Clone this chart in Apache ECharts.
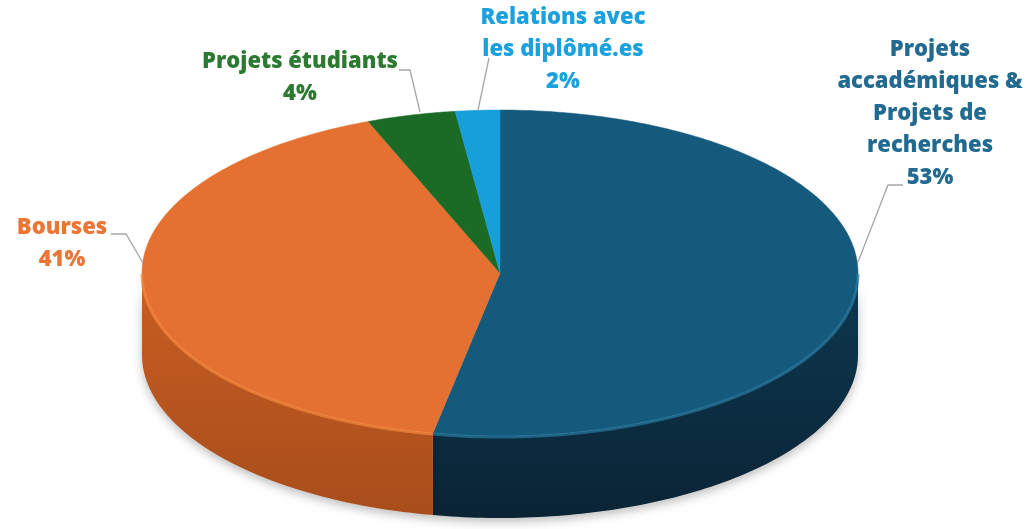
<!DOCTYPE html>
<html>
<head>
<meta charset="utf-8">
<script src="https://cdn.jsdelivr.net/npm/echarts@6/dist/echarts.min.js"></script>
<style>
html,body{margin:0;padding:0;background:#fff;}
#chart{width:1026px;height:529px;}
</style>
</head>
<body>
<div id="chart"></div>
<script>
// ---- data ----
var categories = ['Projets\naccadémiques &\nProjets de\nrecherches', 'Bourses', 'Projets étudiants', 'Relations avec\nles diplômé.es'];
var values = [53, 41, 4, 2];

// ---- styles / layout ----
var topColors  = ['#145a7d', '#e47031', '#1b6b27', '#179fd9'];
var sideTop    = ['#0e3850', '#c95e22', '#15531e', '#127cad'];
var sideBottom = ['#0a2435', '#a84d1b', '#0f3d16', '#0e5f86'];
var edgeLight  = ['#2a7aa3', '#f4893f', '#2a8a38', '#3db5ea'];
var labelColors = ['#226a8f', '#ea7535', '#2c7a31', '#1ba1dd'];
// label box: [x center, y top], leader polyline points
var labelPos = [[930, 34], [62, 212], [300, 46], [563, 2]];
var leaders = [
  [[858, 262], [888, 185], [903, 185]],
  [[111, 234], [126, 234], [143, 263]],
  [[399, 70], [410, 70], [420, 112]],
  [[489, 58], [478, 110]]
];

var CX = 500, CY = 273, RX = 358, RY = 163, DEPTH = 82;
var total = values.reduce(function (a, b) { return a + b; }, 0);

function pt(deg, dy) {
  var r = deg * Math.PI / 180;
  return [CX + RX * Math.sin(r), CY - RY * Math.cos(r) + (dy || 0)];
}
function arc(a, b, dy) {
  var pts = [], n = Math.max(2, Math.ceil(Math.abs(b - a)));
  for (var i = 0; i <= n; i++) pts.push(pt(a + (b - a) * i / n, dy));
  return pts;
}

function renderItem(params, api) {
  var idx = params.dataIndex;
  var before = 0;
  for (var i = 0; i < idx; i++) before += values[i];
  var v = api.value(0);
  var a = before / total * 360, b = (before + v) / total * 360;
  var children = [];

  // side wall (front half only: 90..270 deg)
  var sa = Math.max(a, 90), sb = Math.min(b, 270);
  if (sb > sa) {
    var top = arc(sa, sb, 0), bot = arc(sb, sa, DEPTH);
    children.push({
      type: 'polygon', z2: 1,
      shape: { points: top.concat(bot) },
      style: {
        fill: new echarts.graphic.LinearGradient(0, 0, 0, 1, [
          { offset: 0, color: sideTop[idx] }, { offset: 1, color: sideBottom[idx] }]),
        shadowBlur: 10, shadowColor: 'rgba(0,0,0,0.25)', shadowOffsetY: 4
      }
    });
    children.push({
      type: 'polyline', z2: 3,
      shape: { points: arc(sa, sb, 1) },
      style: { stroke: edgeLight[idx], lineWidth: 3, opacity: 0.7, fill: null }
    });
  }
  // top face
  children.push({
    type: 'polygon', z2: 2,
    shape: { points: [[CX, CY]].concat(arc(a, b, 0)) },
    style: { fill: topColors[idx], stroke: topColors[idx], lineWidth: 0.5 }
  });
  // leader line
  children.push({
    type: 'polyline', z2: 4,
    shape: { points: leaders[idx] },
    style: { stroke: '#a6a6a6', lineWidth: 1.3, fill: null }
  });
  // label
  children.push({
    type: 'text', z2: 5,
    style: {
      text: categories[idx] + '\n' + v + '%',
      x: labelPos[idx][0], y: labelPos[idx][1],
      align: 'center', verticalAlign: 'top',
      fill: labelColors[idx],
      fontFamily: 'Open Sans', fontWeight: 800, fontSize: 22, lineHeight: 32
    }
  });
  return { type: 'group', children: children };
}

var chart = echarts.init(document.getElementById('chart'));
chart.setOption({
  animation: false,
  series: [{
    type: 'custom',
    coordinateSystem: 'none',
    renderItem: renderItem,
    data: values.map(function (v, i) { return { name: categories[i], value: [v] }; })
  }]
});
</script>
</body>
</html>
